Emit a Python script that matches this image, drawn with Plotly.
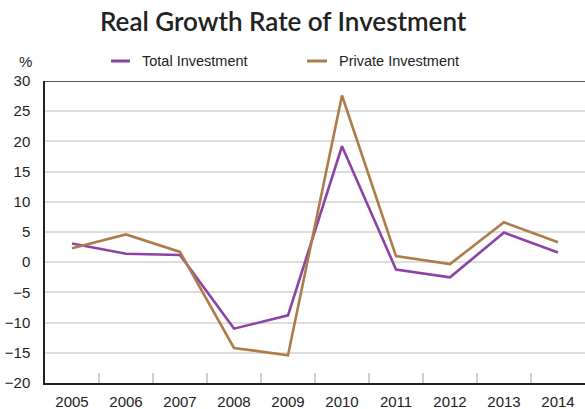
import plotly.graph_objects as go

years = ["2005", "2006", "2007", "2008", "2009", "2010", "2011", "2012", "2013", "2014"]
total_investment = [3.1, 1.4, 1.2, -11.0, -8.8, 19.2, -1.2, -2.5, 4.9, 1.6]
private_investment = [2.3, 4.6, 1.7, -14.2, -15.4, 27.6, 1.0, -0.3, 6.6, 3.3]
y_ticks = [-20, -15, -10, -5, 0, 5, 10, 15, 20, 25, 30]

PURPLE = "#8D42A5"
BROWN = "#AE7C4A"
TICK_FONT = dict(family="Liberation Sans, Arial, sans-serif", size=15, color="#222222")

fig = go.Figure()
fig.add_trace(go.Scatter(x=years, y=total_investment, mode="lines", name="Total Investment",
                         line=dict(color=PURPLE, width=2.6)))
fig.add_trace(go.Scatter(x=years, y=private_investment, mode="lines", name="Private Investment",
                         line=dict(color=BROWN, width=2.6)))

fig.update_layout(
    width=585, height=409,
    margin=dict(l=45, r=0, t=81, b=26),
    paper_bgcolor="white", plot_bgcolor="white",
    showlegend=False,
    title=dict(text="Real Growth Rate of Investment", x=0.484, xanchor="center",
               y=1 - 22 / 409, yanchor="middle",
               font=dict(family="Lato, sans-serif", size=26, color="#222222", weight=600)),
    xaxis=dict(type="category", range=[-0.5, len(years) - 0.5],
               tickson="boundaries", ticks="inside", ticklen=10,
               tickcolor="#D0D0D0", tickwidth=1.5, showgrid=False,
               showline=True, linecolor="#222222", linewidth=1.5,
               tickfont=TICK_FONT, ticklabelstandoff=4),
    yaxis=dict(range=[-20, 30], tickvals=y_ticks, showgrid=True, gridcolor="#DDDDDD",
               gridwidth=1.5, zeroline=False, showline=True, linecolor="#222222",
               linewidth=1.5, ticks="", tickfont=TICK_FONT, ticklabelstandoff=10),
)

# dark border along the top of the plot area
fig.add_shape(type="line", xref="paper", yref="y", x0=0, x1=1, y0=30, y1=30,
              line=dict(color="#555555", width=2))

# legend drawn as line samples with labels above the plot
legend_items = [("Total Investment", PURPLE, 0.1222, 0.1574, 0.1759),
                ("Private Investment", BROWN, 0.4852, 0.5222, 0.5407)]
legend_y = (383 - 61) / 302
for label, color, s0, s1, tx in legend_items:
    fig.add_shape(type="line", xref="paper", yref="paper", x0=s0, x1=s1,
                  y0=legend_y, y1=legend_y, line=dict(color=color, width=3))
    fig.add_annotation(text=label, xref="paper", yref="paper", x=tx, y=legend_y,
                       xanchor="left", yanchor="middle", showarrow=False,
                       font=dict(family="Liberation Sans, Arial, sans-serif", size=14.5,
                                 color="#222222"))

fig.add_annotation(text="%", xref="paper", yref="paper", x=(25 - 45) / 540, y=legend_y,
                   xanchor="center", yanchor="middle", showarrow=False,
                   font=dict(family="Liberation Sans, Arial, sans-serif", size=15,
                             color="#222222"))

fig.write_html("out.html")
